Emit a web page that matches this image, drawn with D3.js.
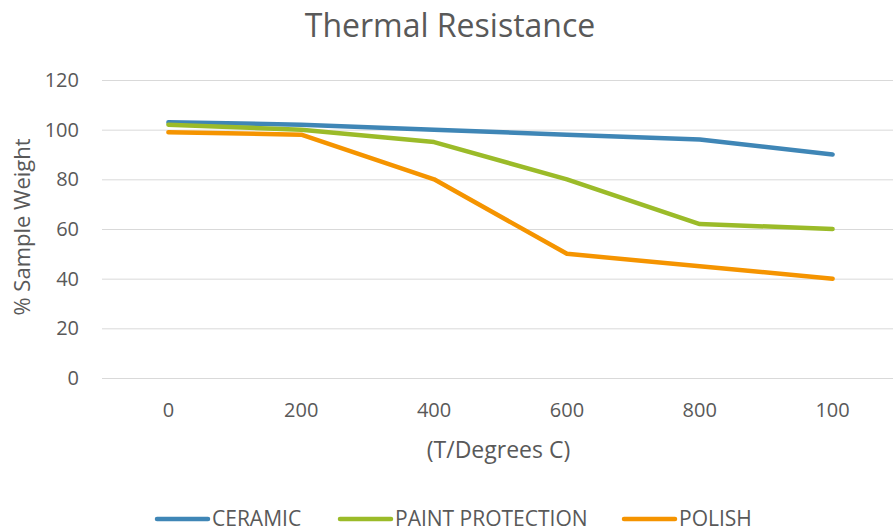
<!DOCTYPE html>
<html>
<head>
<meta charset="utf-8">
<script src="https://cdn.jsdelivr.net/npm/d3@7"></script>
<style>
  body { margin: 0; background: #fff; }
  text { font-family: "Open Sans", sans-serif; fill: #595959; }
</style>
</head>
<body>
<div id="chart"></div>
<script>

var categories = ['0', '200', '400', '600', '800', '100'];
var ceramic = [103, 102, 100, 98, 96, 90];
var paint_protection = [102, 100, 95, 80, 62, 60];
var polish = [99, 98, 80, 50, 45, 40];
var y_ticks = [0, 20, 40, 60, 80, 100, 120];

var series = [
    { name: 'CERAMIC', values: ceramic, color: '#3f86b6' },
    { name: 'PAINT PROTECTION', values: paint_protection, color: '#9bbb29' },
    { name: 'POLISH', values: polish, color: '#f59400' }
];

var W = 893, H = 531;
var margin = { top: 80, left: 102, bottom: 153, right: -6 };
var width = W - margin.left - margin.right;
var height = H - margin.top - margin.bottom;

var svg = d3.select('#chart').append('svg')
    .attr('width', W)
    .attr('height', H);

var sx = d3.scaleBand()
    .domain(categories)
    .range([0, width]);
var sy = d3.scaleLinear()
    .domain([0, 120])
    .range([height, 0]);

var g = svg.append('g')
    .attr('transform', 'translate(' + margin.left + ', ' + margin.top + ')');

// gridlines
g.selectAll('.grid').data(y_ticks).enter()
    .append('line')
    .attr('x1', 0)
    .attr('x2', width)
    .attr('y1', function(d) { return sy(d) + 0.5; })
    .attr('y2', function(d) { return sy(d) + 0.5; })
    .attr('stroke', '#d9d9d9')
    .attr('stroke-width', 1);

var ay = d3.axisLeft(sy).tickValues(y_ticks).tickSize(0).tickPadding(23);
var gy = g.append('g').call(ay);
gy.select('.domain').remove();
gy.selectAll('text').style('font-size', '20px').style('font-family', '"Open Sans", sans-serif').attr('fill', '#595959');

var ax = d3.axisBottom(sx).tickSize(0).tickPadding(0);
var gx = g.append('g')
    .attr('transform', 'translate(0, ' + height + ')')
    .call(ax);
gx.select('.domain').remove();
gx.selectAll('text')
    .attr('dy', null)
    .attr('y', 39)
    .style('font-size', '20px')
    .style('font-family', '"Open Sans", sans-serif')
    .attr('fill', '#595959');

var line = d3.line()
    .x(function(d, i) { return sx(categories[i]) + sx.bandwidth() / 2; })
    .y(function(d) { return sy(d); });

series.forEach(function(s) {
    g.append('path')
        .datum(s.values)
        .attr('fill', 'none')
        .attr('stroke', s.color)
        .attr('stroke-width', 4.5)
        .attr('stroke-linecap', 'round')
        .attr('stroke-linejoin', 'round')
        .attr('d', line);
});

// titles
svg.append('text')
    .attr('x', 450)
    .attr('y', 37)
    .attr('text-anchor', 'middle')
    .style('font-size', '32px')
    .text('Thermal Resistance');

svg.append('text')
    .attr('x', margin.left + width / 2 - 2)
    .attr('y', 458)
    .attr('text-anchor', 'middle')
    .style('font-size', '23px')
    .text('(T/Degrees C)');

svg.append('text')
    .attr('transform', 'translate(30, ' + (margin.top + height / 2 - 2) + ') rotate(-90)')
    .attr('text-anchor', 'middle')
    .style('font-size', '22px')
    .text('% Sample Weight');

// legend
var legend_x = [155, 338, 622];
series.forEach(function(s, i) {
    var lg = svg.append('g').attr('class', 'legend');
    lg.append('line')
        .attr('x1', legend_x[i] + 2)
        .attr('x2', legend_x[i] + 53)
        .attr('y1', 519)
        .attr('y2', 519)
        .attr('stroke', s.color)
        .attr('stroke-width', 4.5)
        .attr('stroke-linecap', 'round');
    lg.append('text')
        .attr('x', legend_x[i] + 57)
        .attr('y', 526)
        .style('font-size', '21px')
        .text(s.name);
});

</script>
</body>
</html>
